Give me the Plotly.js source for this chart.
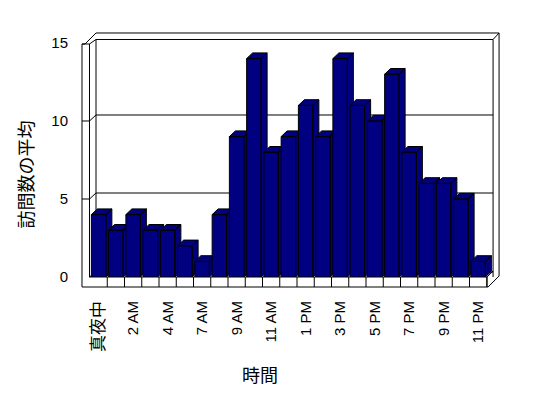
<!DOCTYPE html>
<html><head><meta charset="utf-8">
<script src="https://cdn.plot.ly/plotly-3.0.1.min.js"></script>
<style>html,body{margin:0;padding:0;background:#fff}</style>
</head><body><div id="chart" style="width:548px;height:398px"></div>
<script>
// ---- data ----
const categories = ['真夜中','1 AM','2 AM','3 AM','4 AM','5 AM','7 AM','8 AM','9 AM','10 AM','11 AM','12 PM','1 PM','2 PM','3 PM','4 PM','5 PM','6 PM','7 PM','8 PM','9 PM','10 PM','11 PM'];
const visits = [4,3,4,3,3,2,1,4,9,14,8,9,11,9,14,11,10,13,8,6,6,5,1];
const yTicks = [0,5,10,15];
const xTitle = '時間';
const yTitle = '訪問数の平均';

// ---- geometry (pixels) ----
const W = 548, H = 398;
const L = 90, B = 277, T = 43;
const catPx = 17.247, xMin = -0.5, xMax = 23.5;
const plotW = (xMax - xMin) * catPx;
const plotH = B - T;
const yMax = 15;
const pxPerUnit = plotH / yMax;
const xp = X => (X - L) / plotW;
const yp = Y => (B - Y) / plotH;
const P = (X, Y) => xp(X).toFixed(5) + ',' + yp(Y).toFixed(5);
const path = pts => 'M' + pts.map(p => P(p[0], p[1])).join('L');

// bar 3D parameters (data units)
const bw = 0.42, bdx = 6 / catPx, bdy = 5.7 / pxPerUnit;

const traces = visits.map((v, i) => {
  const a = i - bw, b = i + bw;
  return {
    type: 'scatter', mode: 'lines', fill: 'toself', fillcolor: '#000080',
    line: {color: '#000', width: 1}, hoverinfo: 'skip', showlegend: false,
    x: [a, b, b, a, a, null, a, b, b + bdx, a + bdx, a, null, b, b + bdx, b + bdx, b, b],
    y: [0, 0, v, v, 0, null, v, v, v + bdy, v + bdy, v, null, 0, bdy, v + bdy, v, 0]
  };
});

// ---- walls / floor (decoration) ----
const ln = {color: '#000', width: 1};
const shapes = [];
const addPath = (pts, closed) => shapes.push({type: 'path', xref: 'paper', yref: 'paper', layer: 'below',
  path: path(pts) + (closed ? 'Z' : ''), line: ln, fillcolor: 'rgba(0,0,0,0)'});
// outer silhouette
addPath([[82,287],[82,44],[85,44],[96,33],[499,33],[499,276],[488,287]], true);
// side wall front face / inner edges
addPath([[82,44],[89.5,44],[89.5,277]]);
addPath([[89.5,44],[96,39.5]]);
// back wall inner face
addPath([[96,272],[96,39.5],[493,39.5],[493,277]]);
addPath([[96,272],[493,272]]);
addPath([[493,39.5],[499,33]]);
// floor
addPath([[89.5,277],[487,277],[487,287]]);
addPath([[487,277],[493,271]]);
addPath([[89.5,277],[96,272]]);
// gridlines (front tick stub, side-wall diagonal, back-wall line)
yTicks.filter(t => t > 0 && t < yMax).forEach(t => {
  const Yf = B - t * pxPerUnit;
  addPath([[82,Yf],[89.5,Yf],[96,Yf-6],[493,Yf-6]]);
});
// floor front dividers at category boundaries
categories.forEach((c, i) => {
  shapes.push({type: 'line', xref: 'x', yref: 'paper', layer: 'below', x0: i + 0.5, x1: i + 0.5,
    y0: yp(277), y1: yp(287), line: ln});
});

const tickIdx = categories.map((c, i) => i).filter(i => i % 2 === 0);
const tickText = tickIdx.map(i => /[^\x00-\x7f]/.test(categories[i]) ?
  '<span style="font-size:17px;font-family:\'Noto Sans CJK JP\'">' + categories[i] + '</span>' : categories[i]);

const font = 'Liberation Sans, Arial, Noto Sans CJK JP, sans-serif';
const layout = {
  width: W, height: H,
  margin: {l: L, r: W - L - plotW, t: T, b: H - B, pad: 0},
  paper_bgcolor: '#fff', plot_bgcolor: 'rgba(0,0,0,0)',
  showlegend: false,
  xaxis: {type: 'linear', range: [xMin, xMax], tickvals: tickIdx, ticktext: tickText,
    tickangle: -90, ticks: 'outside', ticklen: 17, tickcolor: 'rgba(0,0,0,0)',
    showgrid: false, zeroline: false, showline: false, automargin: false, fixedrange: true,
    tickfont: {family: font, size: 15, color: '#000'}},
  yaxis: {range: [0, yMax], tickvals: yTicks, ticks: 'outside', ticklen: 18, tickcolor: 'rgba(0,0,0,0)',
    showgrid: false, zeroline: false, showline: false, automargin: false, fixedrange: true,
    tickfont: {family: font, size: 15, color: '#000'}},
  shapes: shapes,
  annotations: [
    {text: xTitle, xref: 'paper', yref: 'paper', x: xp(259.5), y: yp(374), showarrow: false,
      xanchor: 'center', yanchor: 'middle', font: {family: 'Noto Sans CJK JP', size: 18, color: '#000'}},
    {text: yTitle, xref: 'paper', yref: 'paper', x: xp(25.5), y: yp(174), showarrow: false, textangle: -90,
      xanchor: 'center', yanchor: 'middle', font: {family: 'Noto Sans CJK JP', size: 18, color: '#000'}}
  ]
};
Plotly.newPlot('chart', traces, layout, {staticPlot: true, displayModeBar: false});
</script></body></html>
